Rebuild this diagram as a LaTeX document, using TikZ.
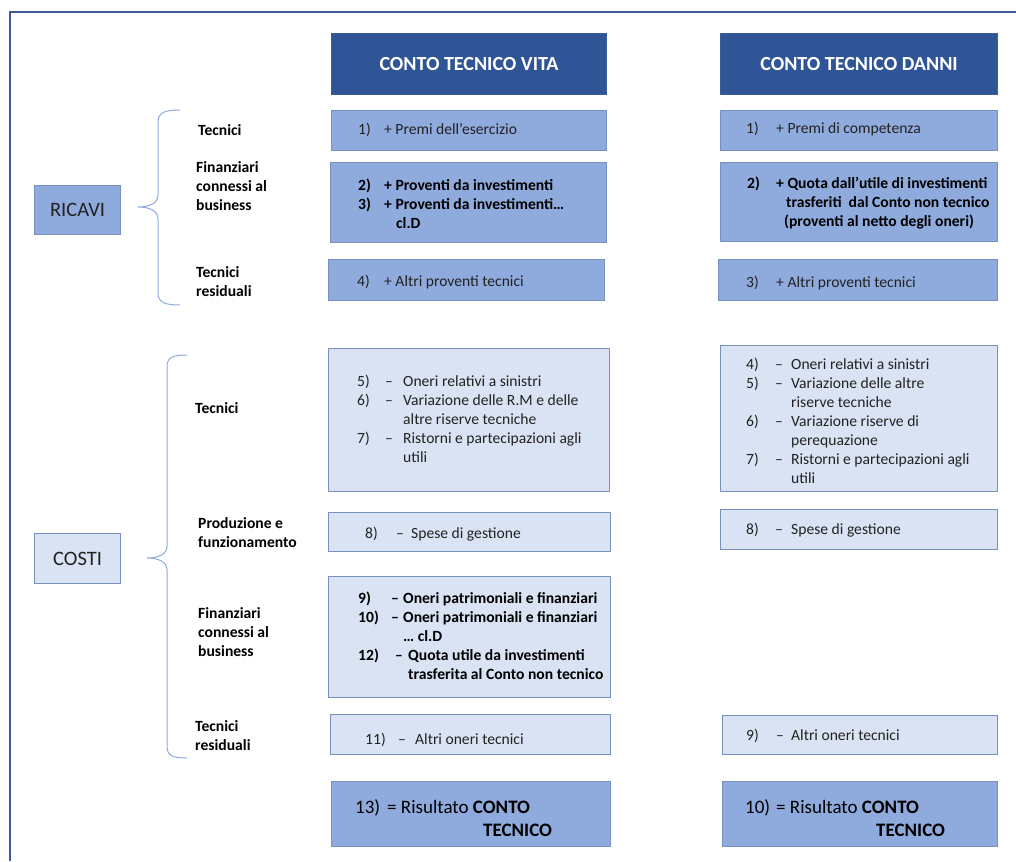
\documentclass[tikz,border=0pt]{standalone}
\usepackage{fontspec}
\setmainfont{Carlito}
\usepackage{array}

\definecolor{hdrfill}{HTML}{2F5597}
\definecolor{hdrline}{HTML}{3A5E9E}
\definecolor{medfill}{HTML}{8FAADC}
\definecolor{litfill}{HTML}{DAE3F3}
\definecolor{boxline}{HTML}{7890BE}
\definecolor{bracecol}{HTML}{8FAADC}
\definecolor{framecol}{HTML}{3D5A99}
\definecolor{ink}{HTML}{222222}

\newcommand\txtsize{\fontsize{15.6}{19}\selectfont}
\newcommand\hdrsize{\fontsize{20}{24}\selectfont}
\newcommand\sidesize{\fontsize{20.5}{24}\selectfont}
\newcommand\ressize{\fontsize{19}{23}\selectfont}
\newcommand\nb[2]{\makebox[#1][l]{#2}}

\begin{document}
\begin{tikzpicture}[
  x=1pt, y=-1pt,
  box/.style={draw=boxline, line width=1.1pt, inner sep=0pt, anchor=north west},
  medbox/.style={box, fill=medfill},
  litbox/.style={box, fill=litfill},
  hdrbox/.style={box, fill=hdrfill, draw=hdrline, text=white, font=\hdrsize\bfseries},
  sidebox/.style={box, text=ink, font=\sidesize},
  txt/.style={anchor=base west, inner sep=0pt, text=ink, font=\txtsize},
  btxt/.style={txt, text=black, font=\txtsize\bfseries},
  rtxt/.style={anchor=base west, inner sep=0pt, text=black, font=\ressize},
  lbl/.style={anchor=base west, inner sep=0pt, text=black, font=\txtsize\bfseries},
  brace/.style={draw=bracecol, line width=1pt},
  frame/.style={draw=framecol, line width=1.6pt}
]
\useasboundingbox (0,0) rectangle (1016,861);

% outer frame (top and left edges)
\draw[frame] (10,861) -- (10,12) -- (1016,12);

% column headers
\node[hdrbox, minimum width=275pt, minimum height=61pt] (hv) at (331,33) {CONTO TECNICO VITA};
\node[hdrbox, minimum width=277pt, minimum height=61pt] (hd) at (720,33) {CONTO TECNICO DANNI};

% left-hand category boxes
\node[sidebox, fill=medfill, minimum width=86pt, minimum height=49pt] (ricavi) at (34,185) {RICAVI};
\node[sidebox, fill=litfill, minimum width=86pt, minimum height=50pt] (costi) at (34,533) {COSTI};

% braces
\coordinate (rbtop) at (180,110);
\coordinate (rbtip) at (138,207);
\coordinate (rbbot) at (180,305);
\draw[brace] (rbtop) .. controls (166,110) and (158,112) .. (158,122) -- (158,195)
  .. controls (158,203) and (150,207) .. (rbtip)
  .. controls (150,207) and (158,211) .. (158,219) -- (158,293)
  .. controls (158,303) and (166,305) .. (rbbot);
\coordinate (cbtop) at (187,355);
\coordinate (cbtip) at (147,558);
\coordinate (cbbot) at (187,758);
\draw[brace] (cbtop) .. controls (173,355) and (167,357) .. (167,367) -- (167,546)
  .. controls (167,554) and (159,558) .. (cbtip)
  .. controls (159,558) and (167,562) .. (167,570) -- (167,746)
  .. controls (167,756) and (173,758) .. (cbbot);

% category labels
\node[lbl] (l1) at (198,136) {Tecnici};
\node[lbl] (l2) at (196,172) {\begin{tabular}[t]{@{}l@{}}Finanziari\\connessi al\\business\end{tabular}};
\node[lbl] (l3) at (196,277) {\begin{tabular}[t]{@{}l@{}}Tecnici\\residuali\end{tabular}};
\node[lbl] (l4) at (195,413) {Tecnici};
\node[lbl] (l5) at (198,528) {\begin{tabular}[t]{@{}l@{}}Produzione e\\funzionamento\end{tabular}};
\node[lbl] (l6) at (198,618) {\begin{tabular}[t]{@{}l@{}}Finanziari\\connessi al\\business\end{tabular}};
\node[lbl] (l7) at (195,731) {\begin{tabular}[t]{@{}l@{}}Tecnici\\residuali\end{tabular}};

% ---------- Conto tecnico vita ----------
\node[medbox, minimum width=275pt, minimum height=40pt] (v1) at (331,110) {};
\node[txt] (v1t) at (358,135) {\nb{26pt}{1)}+ Premi dell’esercizio};

\node[medbox, minimum width=276pt, minimum height=80pt] (v2) at (330,162) {};
\node[btxt] (v2t) at (358,190) {\begin{tabular}[t]{@{}l@{}}
\nb{26pt}{2)}+ Proventi da investimenti\\
\nb{26pt}{3)}+ Proventi da investimenti…\\
\hspace{38pt}cl.D\end{tabular}};

\node[medbox, minimum width=276pt, minimum height=41pt] (v4) at (328,259) {};
\node[txt] (v4t) at (357,286) {\nb{27pt}{4)}+ Altri proventi tecnici};

\node[litbox, minimum width=281pt, minimum height=143pt] (v5) at (328,348) {};
\node[txt] (v5t) at (357,386.5) {\begin{tabular}[t]{@{}l@{}}
\nb{28pt}{5)}\nb{18pt}{–}Oneri relativi a sinistri\\
\nb{28pt}{6)}\nb{18pt}{–}Variazione delle R.M e delle\\
\hspace{46pt}altre riserve tecniche\\
\nb{28pt}{7)}\nb{18pt}{–}Ristorni e partecipazioni agli\\
\hspace{46pt}utili\end{tabular}};

\node[litbox, minimum width=282pt, minimum height=39pt] (v8) at (328,512) {};
\node[txt] (v8t) at (365,538) {\nb{31pt}{8)}\nb{15pt}{–}Spese di gestione};

\node[litbox, minimum width=282pt, minimum height=121pt] (v9) at (328,576) {};
\node[btxt] (v9t) at (358,603.5) {\begin{tabular}[t]{@{}l@{}}
\nb{33pt}{9)}\nb{12pt}{–}Oneri patrimoniali e finanziari\\
\nb{33pt}{10)}\nb{12pt}{–}Oneri patrimoniali e finanziari\\
\hspace{45pt}… cl.D\\
\nb{37pt}{12)}\nb{13pt}{–}Quota utile da investimenti\\
\hspace{50pt}trasferita al Conto non tecnico\end{tabular}};

\node[litbox, minimum width=280pt, minimum height=40pt] (v11) at (330,714) {};
\node[txt] (v11t) at (365,744) {\nb{33pt}{11)}\nb{17pt}{–}Altri oneri tecnici};

\node[medbox, minimum width=279pt, minimum height=65pt] (v13) at (331,781) {};
\node[rtxt] (v13t) at (355,813) {\nb{32pt}{13)}= Risultato \textbf{CONTO}};
\node[rtxt] (v13u) at (483,836) {\textbf{TECNICO}};

% ---------- Conto tecnico danni ----------
\node[medbox, minimum width=277pt, minimum height=40pt] (d1) at (720,110) {};
\node[txt] (d1t) at (746,134) {\nb{30pt}{1)}+ Premi di competenza};

\node[medbox, minimum width=277pt, minimum height=79pt] (d2) at (720,162) {};
\node[btxt] (d2t) at (747,188) {\begin{tabular}[t]{@{}l@{}}
\nb{29pt}{2)}+ Quota dall’utile di investimenti\\
\hspace{39pt}trasferiti\ \ dal Conto non tecnico\\
\hspace{37pt}(proventi al netto degli oneri)\end{tabular}};

\node[medbox, minimum width=279pt, minimum height=41pt] (d3) at (718,259) {};
\node[txt] (d3t) at (746,287) {\nb{30pt}{3)}+ Altri proventi tecnici};

\node[litbox, minimum width=277pt, minimum height=146pt] (d4) at (720,345) {};
\node[txt] (d4t) at (746,369) {\begin{tabular}[t]{@{}l@{}}
\nb{29pt}{4)}\nb{16pt}{–}Oneri relativi a sinistri\\
\nb{29pt}{5)}\nb{16pt}{–}Variazione delle altre\\
\hspace{45pt}riserve tecniche\\
\nb{29pt}{6)}\nb{16pt}{–}Variazione riserve di\\
\hspace{45pt}perequazione\\
\nb{29pt}{7)}\nb{16pt}{–}Ristorni e partecipazioni agli\\
\hspace{45pt}utili\end{tabular}};

\node[litbox, minimum width=277pt, minimum height=40pt] (d8) at (720,509) {};
\node[txt] (d8t) at (746,534) {\nb{29pt}{8)}\nb{16pt}{–}Spese di gestione};

\node[litbox, minimum width=275pt, minimum height=39pt] (d9) at (722,715) {};
\node[txt] (d9t) at (746,740) {\nb{30pt}{9)}\nb{15pt}{–}Altri oneri tecnici};

\node[medbox, minimum width=275pt, minimum height=65pt] (d10) at (722,781) {};
\node[rtxt] (d10t) at (745,813) {\nb{31pt}{10)}= Risultato \textbf{CONTO}};
\node[rtxt] (d10u) at (876,836) {\textbf{TECNICO}};
\end{tikzpicture}
\end{document}
